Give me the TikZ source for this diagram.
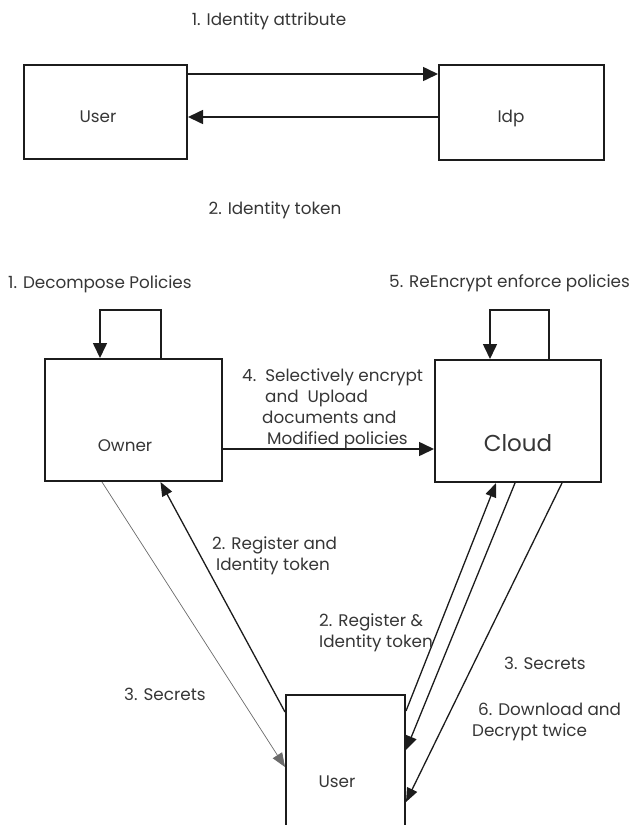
\documentclass[tikz,border=0pt]{standalone}
\usepackage{fontspec}
\setmainfont{Poppins}
\usetikzlibrary{positioning,arrows.meta}
\definecolor{InkDark}{HTML}{1C1C1C}
\definecolor{TextMid}{HTML}{363636}
\definecolor{InkThin}{HTML}{6A6A6A}

\begin{document}
\begin{tikzpicture}[x=1pt,y=-1pt,
    every node/.style={font=\fontsize{16.8}{21}\selectfont, text=TextMid},
    box/.style={draw=InkDark, line width=2pt, minimum width=#1},
    flow/.style={draw=InkDark, line width=1.6pt, -{Triangle[length=15pt,width=14pt]}},
    link/.style={draw=InkDark, line width=1.3pt, -{Triangle[length=14pt,width=11pt]}},
    txt/.style={align=left, anchor=west, inner sep=0pt}]
  \useasboundingbox (0,0) rectangle (632,825);

  % identity exchange
  \node[box=163pt, minimum height=94pt] (uTop) at (105.5,112) {};
  \node[box=165pt, minimum height=95pt] (idp) at (521.5,112.5) {};
  \node at (98,117) {User};
  \node at (511,118) {Idp};
  \draw[flow] ([yshift=-10pt]uTop.north east) -- ([yshift=-10pt]uTop.north east -| idp.west);
  \draw[flow] ([yshift=-4.5pt]idp.west) -- ([yshift=-4.5pt]idp.west -| uTop.east);
  \node (lblAttr) at (269,21) {1. Identity attribute};
  \node (lblTok) at (275,210) {2. Identity token};

  % owner / cloud / user
  \node[box=177pt, minimum height=122pt] (owner) at (133.5,420) {};
  \node[box=166pt, minimum height=122pt] (cloud) at (518,421) {};
  \node[box=119pt, minimum height=165pt] (uBot) at (345.5,777.5) {};
  \node at (125,446) {Owner};
  \node[font=\fontsize{23}{26}\selectfont] at (518,443) {Cloud};
  \node at (337,782) {User};

  \draw[flow] ([xshift=27.5pt]owner.north) -- ++(0,-48) -| ([xshift=-33.5pt]owner.north);
  \draw[flow] ([xshift=31pt]cloud.north) -- ++(0,-49) -| ([xshift=-28pt]cloud.north);
  \draw[flow] ([yshift=-29pt]owner.east) -- ([yshift=-29pt]owner.east -| cloud.west);

  \draw[InkThin, line width=0.7pt, -{Triangle[length=14pt,width=11pt]}]
    ([xshift=-31.5pt]owner.south) -- ([yshift=10.5pt]uBot.west);
  \draw[link] ([yshift=-18pt]uBot.north west) -- ([xshift=27pt]owner.south);
  \draw[link] ([yshift=-17pt]uBot.north east) -- ([xshift=-22pt]cloud.south);
  \draw[link] ([xshift=-3pt]cloud.south) -- ([yshift=27.5pt]uBot.east);
  \draw[link] ([xshift=44pt]cloud.south) -- ([yshift=-24.5pt]uBot.east);

  \node[txt] (lblDecomp) at (8,284) {1. Decompose Policies};
  \node[txt] (lblReenc) at (389,283) {5. ReEncrypt enforce policies};
  \node[txt] (lblUpload) at (242,408.5)
    {4.\ \ Selectively encrypt\\\hspace*{23pt}and\ \ Upload\\\hspace*{20pt}documents and\\\hspace*{25pt}Modified policies};
  \node[txt] (lblRegA) at (212,556) {2. Register and\\\hspace*{4pt}Identity token};
  \node[txt] (lblRegB) at (319,633) {2. Register \&\\Identity token};
  \node[txt] (lblSecA) at (124,694) {3. Secrets};
  \node[txt] (lblSecB) at (504,663) {3. Secrets};
  \node[txt] (lblDown) at (472,721.5) {\hspace*{6pt}6. Download and\\Decrypt twice};
\end{tikzpicture}
\end{document}
